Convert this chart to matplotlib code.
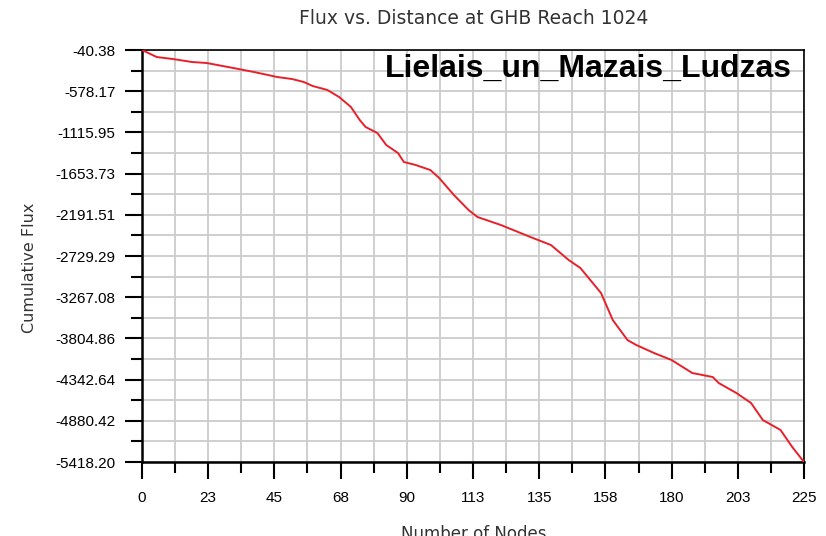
import numpy as np
import matplotlib
matplotlib.use("Agg")
import matplotlib.pyplot as plt
from matplotlib.ticker import FixedLocator

# cumulative flux along the reach
nodes = [0, 5, 10.5, 17, 22, 31, 38, 46, 51, 55, 58, 63, 67, 71, 74, 76, 80, 83,
         87, 89, 93, 98, 101, 106, 111, 114, 122, 132, 139, 145, 149, 156, 160,
         165, 168, 174, 180, 187, 194, 196, 202, 207, 211, 217, 221, 225]
flux = [-40, -132, -158, -197, -210, -275, -327, -393, -419, -458, -510, -562,
        -654, -784, -954, -1045, -1124, -1280, -1385, -1502, -1541, -1607, -1711,
        -1933, -2129, -2220, -2325, -2481, -2586, -2781, -2886, -3212, -3565,
        -3826, -3891, -3995, -4087, -4256, -4309, -4387, -4517, -4648, -4870,
        -5000, -5222, -5418.2]

x_labels = ["0", "23", "45", "68", "90", "113", "135", "158", "180", "203", "225"]
y_labels = ["-40.38", "-578.17", "-1115.95", "-1653.73", "-2191.51", "-2729.29",
            "-3267.08", "-3804.86", "-4342.64", "-4880.42", "-5418.20"]

y_top, y_bot = -40.38, -5418.20
x_max = 225

fig = plt.figure(figsize=(8.26, 5.36), dpi=100)
ax = fig.add_axes([0.1719, 0.138, 0.8015, 0.7687])

ax.plot(nodes, flux, color="#e8202a", lw=1.4, zorder=3)

ax.set_xlim(0, x_max)
ax.set_ylim(y_bot, y_top)

xt = np.linspace(0, x_max, 11)
yt = np.linspace(y_top, y_bot, 11)
ax.set_xticks(xt)
ax.set_xticklabels(x_labels)
ax.set_yticks(yt)
ax.set_yticklabels(y_labels)
ax.xaxis.set_minor_locator(FixedLocator((xt[:-1] + xt[1:]) / 2))
ax.yaxis.set_minor_locator(FixedLocator((yt[:-1] + yt[1:]) / 2))

ax.grid(True, which="both", color="#cccccc", lw=1.3, zorder=0)
ax.tick_params(which="major", direction="out", length=12, width=1.5, pad=7,
               labelsize=11, labelfontfamily="Liberation Sans")
ax.tick_params(which="minor", direction="out", length=8, width=1.5)
ax.tick_params(axis="x", which="major", pad=9)

for side in ["left", "bottom"]:
    ax.spines[side].set_linewidth(1.8)
for side in ["top", "right"]:
    ax.spines[side].set_linewidth(1.2)

fig.text(0.573, 0.966, "Flux vs. Distance at GHB Reach 1024", ha="center",
         va="center", fontsize=13.5, color="#333333")
fig.text(0.036, 0.5, "Cumulative Flux", rotation=90, ha="center", va="center",
         fontsize=11.5, color="#333333")
fig.text(0.573, -0.006, "Number of Nodes", ha="center", va="baseline",
         fontsize=12, color="#333333")
ax.text(0.982, 0.99, "Lielais_un_Mazais_Ludzas", transform=ax.transAxes,
        ha="right", va="top", fontsize=23, fontweight="bold",
        family="Liberation Sans", zorder=4)

fig.savefig("out.png", dpi=100)
